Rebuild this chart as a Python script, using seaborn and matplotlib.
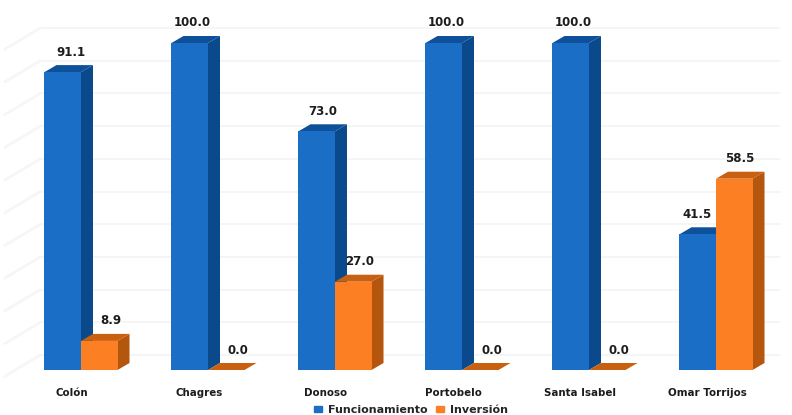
import pandas as pd
import matplotlib
matplotlib.use("Agg")
import matplotlib.pyplot as plt
from matplotlib.patches import Polygon
import seaborn as sns

# -----------------------------
# Data
# -----------------------------
districts = ["Colón", "Chagres", "Donoso", "Portobelo", "Santa Isabel", "Omar Torrijos"]
funcionamiento = [91.1, 100.0, 73.0, 100.0, 100.0, 41.5]
inversion = [8.9, 0.0, 27.0, 0.0, 0.0, 58.5]
grid_values = [0, 10, 20, 30, 40, 50, 60, 70, 80, 90, 100]

df = pd.DataFrame({
    "Distrito": districts * 2,
    "Valor": funcionamiento + inversion,
    "Serie": ["Funcionamiento"] * 6 + ["Inversión"] * 6,
})

# -----------------------------
# Styles
# -----------------------------
W, H = 792, 415
FRONT = {"Funcionamiento": "#1b6ec6", "Inversión": "#fd7f23"}
SIDE = ["#0a4a8c", "#b5560f"]
TOP = ["#0e5099", "#c9600f"]
TEXT = "#1c1c1c"
FONT = "DejaVu Sans"

# pixels -> data units
PX_X = 127.0
PX_Y = 3.27
DEPTH_X = 12 / PX_X
DEPTH_Y = 7 / PX_Y
WALL_Y = 15 / PX_Y

# small label nudges, in pixels
label_dx = [[8, 3, 6, 3, 3, -1], [12, 12, 6, 12, 12, 5]]

sns.set_style("white")
plt.rcParams["font.family"] = FONT

fig = plt.figure(figsize=(W / 100, H / 100), dpi=100)
ax = fig.add_axes([17.5 / W, (H - 370) / H, 762 / W, 327 / H])

sns.barplot(
    data=df, x="Distrito", y="Valor", hue="Serie", order=districts,
    palette=FRONT, width=0.575, gap=0, saturation=1, legend=False,
    linewidth=0, ax=ax,
)

ax.set_xlim(-0.5, 5.5)
ax.set_ylim(0, 100)
ax.set_xlabel("")
ax.set_ylabel("")
ax.set_xticks([])
ax.set_yticks([])
sns.despine(ax=ax, left=True, bottom=True)

# -----------------------------
# Back wall grid
# -----------------------------
wall_x = -0.32
for v in grid_values:
    ax.plot([wall_x, 5.5], [v + WALL_Y, v + WALL_Y], color="#f3f3f3", lw=1.1,
            clip_on=False, zorder=1)
    ax.plot([-0.6, wall_x], [v + WALL_Y - 6.5, v + WALL_Y], color="#f6f6f6", lw=2,
            clip_on=False, zorder=1)

# -----------------------------
# Fake 3D faces and value labels
# -----------------------------
for s, container in enumerate(ax.containers):
    for i, bar in enumerate(container):
        x0 = bar.get_x()
        x1 = x0 + bar.get_width()
        h = bar.get_height()
        bar.set_zorder(3 + 2 * s)
        side = Polygon(
            [(x1, 0), (x1 + DEPTH_X, DEPTH_Y), (x1 + DEPTH_X, h + DEPTH_Y), (x1, h)],
            closed=True, facecolor=SIDE[s], edgecolor="none", clip_on=False, zorder=2.5 + 2 * s,
        )
        top = Polygon(
            [(x0, h), (x0 + DEPTH_X, h + DEPTH_Y), (x1 + DEPTH_X, h + DEPTH_Y), (x1, h)],
            closed=True, facecolor=TOP[s], edgecolor="none", clip_on=False, zorder=2.6 + 2 * s,
        )
        ax.add_patch(side)
        ax.add_patch(top)
        ax.annotate(
            f"{h:.1f}", xy=((x0 + x1) / 2, h), xytext=(label_dx[s][i] * 0.72, 20 * 0.72),
            textcoords="offset points", ha="center", va="center", fontsize=8.5,
            fontweight="bold", color=TEXT, annotation_clip=False, zorder=8,
        )

# -----------------------------
# Category labels
# -----------------------------
for i, name in enumerate(districts):
    ax.annotate(
        name, xy=(i, 0), xytext=(-9 * 0.72, -23 * 0.72), textcoords="offset points",
        ha="center", va="center", fontsize=7.4, fontweight="bold", color=TEXT,
        annotation_clip=False,
    )

# -----------------------------
# Legend
# -----------------------------
handles = [plt.Rectangle((0, 0), 1, 1, color=c) for c in FRONT.values()]
fig.legend(
    handles, list(FRONT.keys()), loc="center", bbox_to_anchor=(411 / W, (H - 410) / H),
    ncol=2, frameon=False, handlelength=0.7, handleheight=0.55,
    handletextpad=0.5, columnspacing=0.8, borderpad=0,
    prop={"family": FONT, "weight": "bold", "size": 8},
)

fig.savefig("out.png", dpi=100)
plt.close(fig)
